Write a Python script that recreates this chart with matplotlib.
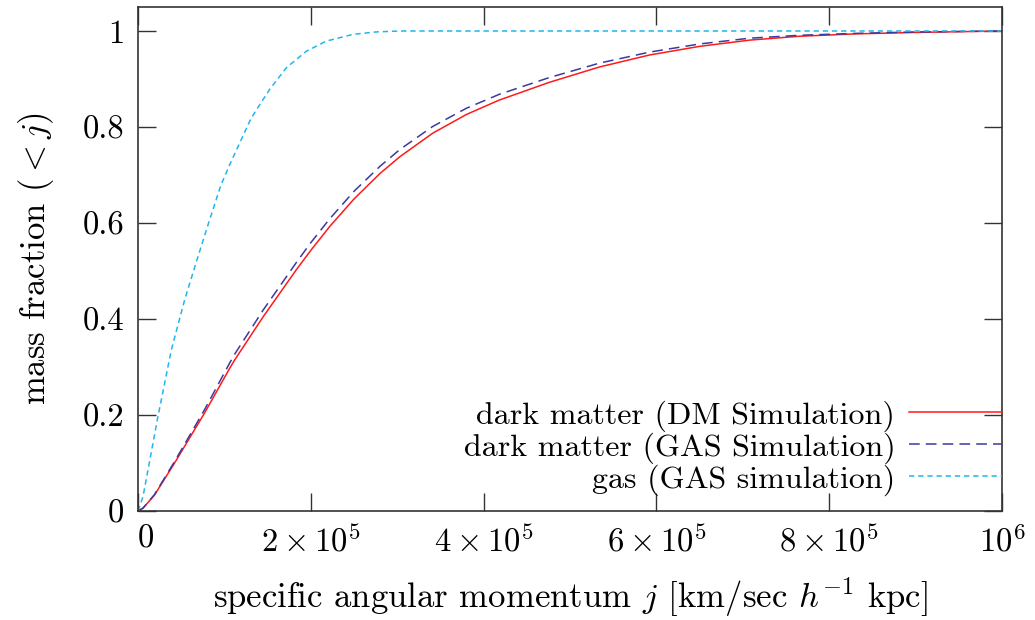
import numpy as np
import matplotlib
matplotlib.use("Agg")
import matplotlib.pyplot as plt

plt.rcParams['font.family'] = ['cmr10', 'DejaVu Serif']
plt.rcParams['mathtext.fontset'] = 'cm'
plt.rcParams['axes.formatter.use_mathtext'] = True
plt.rcParams['axes.unicode_minus'] = False

# values (j in km/sec h^-1 kpc)
j_dm = [0, 5800, 19000, 42000, 77000, 106000, 112000, 145000, 183000, 200000,
        222000, 250000, 280000, 303000, 341000, 380000, 418000, 476000, 534000,
        592000, 650000, 708000, 765000, 830000, 900000, 1000000]
frac_dm = [0, 0.006, 0.033, 0.099, 0.204, 0.297, 0.315, 0.405, 0.502, 0.543,
           0.593, 0.650, 0.703, 0.738, 0.787, 0.826, 0.856, 0.893, 0.925,
           0.950, 0.968, 0.981, 0.989, 0.994, 0.997, 1.0]

j_dmgas = j_dm
frac_dmgas = [0, 0.006, 0.034, 0.102, 0.211, 0.308, 0.327, 0.419, 0.517, 0.559,
              0.609, 0.666, 0.718, 0.753, 0.801, 0.839, 0.868, 0.903, 0.933,
              0.956, 0.973, 0.985, 0.991, 0.995, 0.998, 1.0]

j_gas = [0, 5800, 23000, 38500, 54000, 67000, 81000, 96000, 106000, 116000,
         129000, 135000, 153000, 172000, 195000, 218000, 249000, 275000, 303000,
         1000000]
frac_gas = [0, 0.03, 0.196, 0.335, 0.44, 0.516, 0.596, 0.679, 0.721, 0.76,
            0.811, 0.83, 0.880, 0.924, 0.958, 0.979, 0.993, 0.998, 1.0,
            1.0]

xticks = [0, 2e5, 4e5, 6e5, 8e5, 1e6]
xticklabels = ['0', r'$2\times10^5$', r'$4\times10^5$', r'$6\times10^5$',
               r'$8\times10^5$', r'$10^6$']
yticks = [0, 0.2, 0.4, 0.6, 0.8, 1.0]
yticklabels = ['0', '0.2', '0.4', '0.6', '0.8', '1']

fig = plt.figure(figsize=(10.35, 6.2), dpi=100)
ax = fig.add_axes([138 / 1035, 1 - 511 / 620, (1002 - 138) / 1035, (511 - 7) / 620])

ax.plot(j_dm, frac_dm, color='#ff1a1a', lw=1.1, label='dark matter (DM Simulation)')
ax.plot(j_dmgas, frac_dmgas, color='#3a3aa0', lw=1.1, dashes=(7, 4),
        label='dark matter (GAS Simulation)')
ax.plot(j_gas, frac_gas, color='#22b4ee', lw=1.1, dashes=(3.5, 2.5),
        label='gas (GAS simulation)')

ax.set_xlim(0, 1e6)
ax.set_ylim(0, 1.05)
ax.set_xticks(xticks)
ax.set_xticklabels(xticklabels)
ax.get_xticklabels()[0].set_ha('left')
ax.set_yticks(yticks)
ax.set_yticklabels(yticklabels)
ax.tick_params(direction='in', length=13, width=1.0, top=True, right=True,
               labelsize=23.5, color='#333333')
ax.tick_params(axis='x', pad=10)
ax.tick_params(axis='y', pad=10)
for s in ax.spines.values():
    s.set_linewidth(1.2)
    s.set_color('#333333')

ax.set_xlabel(r'specific angular momentum $j$ [km/sec $h^{-1}$ kpc]', fontsize=25, labelpad=13)
ax.set_ylabel(r'mass fraction $(<j)$', fontsize=25, labelpad=19)

ax.legend(loc='lower right', bbox_to_anchor=(1.0, 0.03), frameon=False, markerfirst=False,
          fontsize=23, handlelength=2.9, handletextpad=0.44, labelspacing=0.02,
          borderpad=0, borderaxespad=0)

fig.savefig('out.png', dpi=100)
